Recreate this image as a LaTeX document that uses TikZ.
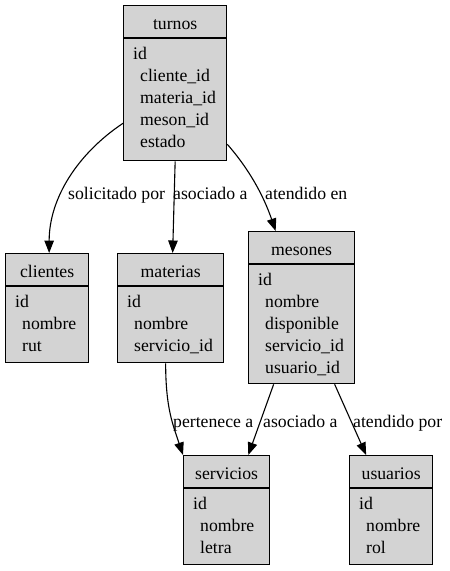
\documentclass[tikz,border=0pt]{standalone}
\usepackage{fontspec}
\setmainfont{Liberation Serif}
\newfontfamily\tmsfont{Liberation Serif}
\usetikzlibrary{arrows.meta,calc}
\tikzset{
  tblbox/.style={draw=black, fill={rgb,255:red,211;green,211;blue,211}, line width=1.3pt, rectangle, inner sep=0pt},
  tblline/.style={draw=black, line width=1.3pt},
  lbl/.style={inner sep=0pt, font=\tmsfont\fontsize{17.7pt}{22pt}\selectfont},
  conn/.style={draw=black, line width=1.1pt, -{Triangle[length=12.5pt,width=9.5pt]}},
}
\newcommand\dbtable[8]{%
  \node[tblbox, minimum width=#4pt, minimum height=#5pt, anchor=north west] (#1) at (#2,#3) {};
  \draw[tblline] ([yshift=-33pt]#1.north west) -- ([yshift=-33pt]#1.north east);
  \node[lbl, anchor=base] (#1-title) at ([yshift=-24pt]#1.north) {#6};
  \node[lbl, anchor=base west] (#1-f0) at ([xshift=10pt,yshift=-54pt]#1.north west) {#7};
  \foreach \f [count=\i] in {#8} {
    \node[lbl, anchor=base west] (#1-f\i) at ([xshift=17pt,yshift=-54pt-22pt*\i]#1.north west) {\f};
  }%
}
\begin{document}
\begin{tikzpicture}[x=1pt,y=-1pt]
\useasboundingbox (0,0) rectangle (450,571);
\dbtable{turnos}{123}{5}{103}{155}{turnos}{id}{cliente\_id,materia\_id,meson\_id,estado}
\dbtable{clientes}{5}{253}{83}{109}{clientes}{id}{nombre,rut}
\dbtable{materias}{117}{253}{106}{109}{materias}{id}{nombre,servicio\_id}
\dbtable{mesones}{248}{231}{106}{152}{mesones}{id}{nombre,disponible,servicio\_id,usuario\_id}
\dbtable{servicios}{183}{455}{86}{109}{servicios}{id}{nombre,letra}
\dbtable{usuarios}{349}{455}{83}{109}{usuarios}{id}{nombre,rol}

% connectors
\draw[conn] ([yshift=38pt]turnos.south west) .. controls +(-45,30) and +(0,-55) .. ([xshift=2pt]clientes.north);
\draw[conn] (turnos.south) -- ([xshift=2pt]materias.north);
\draw[conn] ([yshift=17pt]turnos.south east) .. controls +(22,25) and +(-12,-35) .. ([xshift=-26pt]mesones.north);
\draw[conn] ([xshift=-5pt]materias.south) .. controls +(0,45) and +(-10,-30) .. (servicios.north west);
\draw[conn] ([xshift=-28pt]mesones.south) -- ([xshift=-22pt]servicios.north east);
\draw[conn] ([xshift=33pt]mesones.south) -- ([xshift=-25pt]usuarios.north);

% labels
\node[lbl, anchor=base west] (l1) at (68,199) {solicitado por};
\node[lbl, anchor=base west] (l2) at (173,199) {asociado a};
\node[lbl, anchor=base west] (l3) at (265,199) {atendido en};
\node[lbl, anchor=base west] (l4) at (173,427) {pertenece a};
\node[lbl, anchor=base west] (l5) at (263,427) {asociado a};
\node[lbl, anchor=base west] (l6) at (353,427) {atendido por};
\end{tikzpicture}
\end{document}
